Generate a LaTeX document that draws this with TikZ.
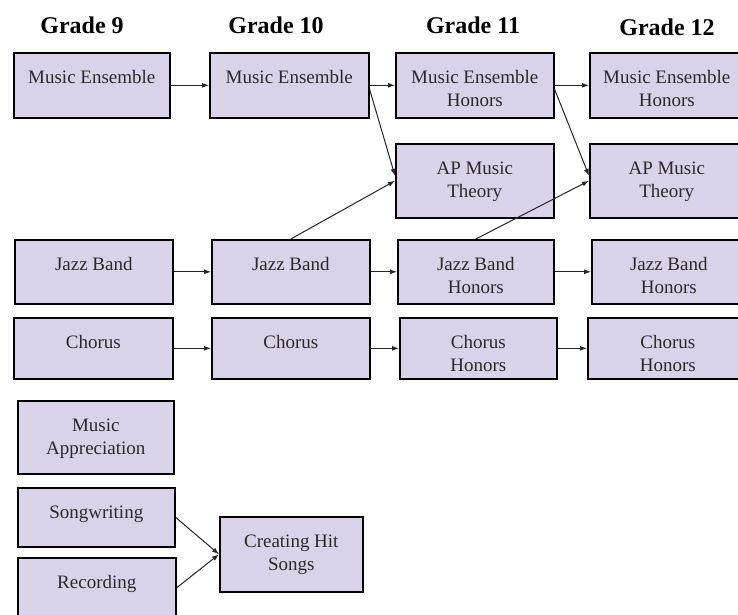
\documentclass[tikz,border=0pt]{standalone}
\usepackage{fontspec}
\setmainfont{Liberation Serif}
\usetikzlibrary{arrows.meta}
\definecolor{lav}{HTML}{D9D2E9}
\definecolor{txtc}{HTML}{2A2A2A}
\newcommand{\course}[6]{%
  \node[box, minimum width={#4-#2}, minimum height={#5-#3}] (#1) at (#2,#3) {};
  \node[lbl] (#1t) at ([yshift=-31pt]#1.north) {\parbox[t]{170pt}{\centering #6}};
}
\begin{document}
\begin{tikzpicture}[x=1pt,y=-1pt,
  box/.style={draw=black, line width=1.6pt, fill=lav, inner sep=0pt, anchor=north west},
  lbl/.style={inner sep=0pt, anchor=base, text=txtc, font=\fontsize{19}{23}\selectfont},
  head/.style={inner sep=0pt, anchor=base, font=\fontsize{24}{28}\selectfont\bfseries},
  arr/.style={draw=black!85, line width=1pt, -{Latex[length=7pt,width=5pt]}}]
\clip (0,0) rectangle (738,614);
\fill[white] (0,0) rectangle (738,614);
% headers
\node[head] (g9)  at (82,33)  {Grade 9};
\node[head] (g10) at (276,33) {Grade 10};
\node[head] (g11) at (473,33) {Grade 11};
\node[head] (g12) at (667,35) {Grade 12};
% row 1
\course{me9}{13}{52}{169}{117}{Music Ensemble}
\course{me10}{209}{52}{368}{117}{Music Ensemble}
\course{me11}{395}{52}{553}{117}{Music Ensemble\\Honors}
\course{me12}{589}{52}{743}{117}{Music Ensemble\\Honors}
% AP
\course{ap11}{395}{143}{553}{217}{AP Music\\Theory}
\course{ap12}{589}{143}{743}{217}{AP Music\\Theory}
% jazz
\course{jb9}{14}{239}{172}{303}{Jazz Band}
\course{jb10}{211}{239}{369}{303}{Jazz Band}
\course{jb11}{397}{239}{553}{303}{Jazz Band\\Honors}
\course{jb12}{591}{239}{745}{303}{Jazz Band\\Honors}
% chorus
\course{ch9}{13}{317}{172}{378}{Chorus}
\course{ch10}{211}{317}{369}{378}{Chorus}
\course{ch11}{399}{317}{556}{378}{Chorus\\Honors}
\course{ch12}{587}{317}{747}{378}{Chorus\\Honors}
% others
\course{ma}{17}{400}{173}{473}{Music\\Appreciation}
\course{sw}{17}{487}{174}{546}{Songwriting}
\course{rc}{17}{557}{175}{617}{Recording}
\course{hit}{219}{516}{362}{591}{Creating Hit\\Songs}
% arrows
\draw[arr] (me9.east) -- (me10.west);
\draw[arr] (me10.east) -- (me11.west);
\draw[arr] (me11.east) -- (me12.west);
\draw[arr] (jb9.east) -- (jb10.west);
\draw[arr] (jb10.east) -- (jb11.west);
\draw[arr] (jb11.east) -- (jb12.west);
\draw[arr] (ch9.east) -- (ch10.west);
\draw[arr] (ch10.east) -- (ch11.west);
\draw[arr] (ch11.east) -- (ch12.west);
\draw[arr] ([yshift=-4pt]me10.east) -- ([yshift=5pt]ap11.west);
\draw[arr] (jb10.north) -- (ap11.west);
\draw[arr] ([yshift=-4pt]me11.east) -- ([yshift=5pt]ap12.west);
\draw[arr] (jb11.north) -- (ap12.west);
\draw[arr] (sw.east) -- (hit.west);
\draw[arr] (rc.east) -- (hit.west);
\end{tikzpicture}
\end{document}
